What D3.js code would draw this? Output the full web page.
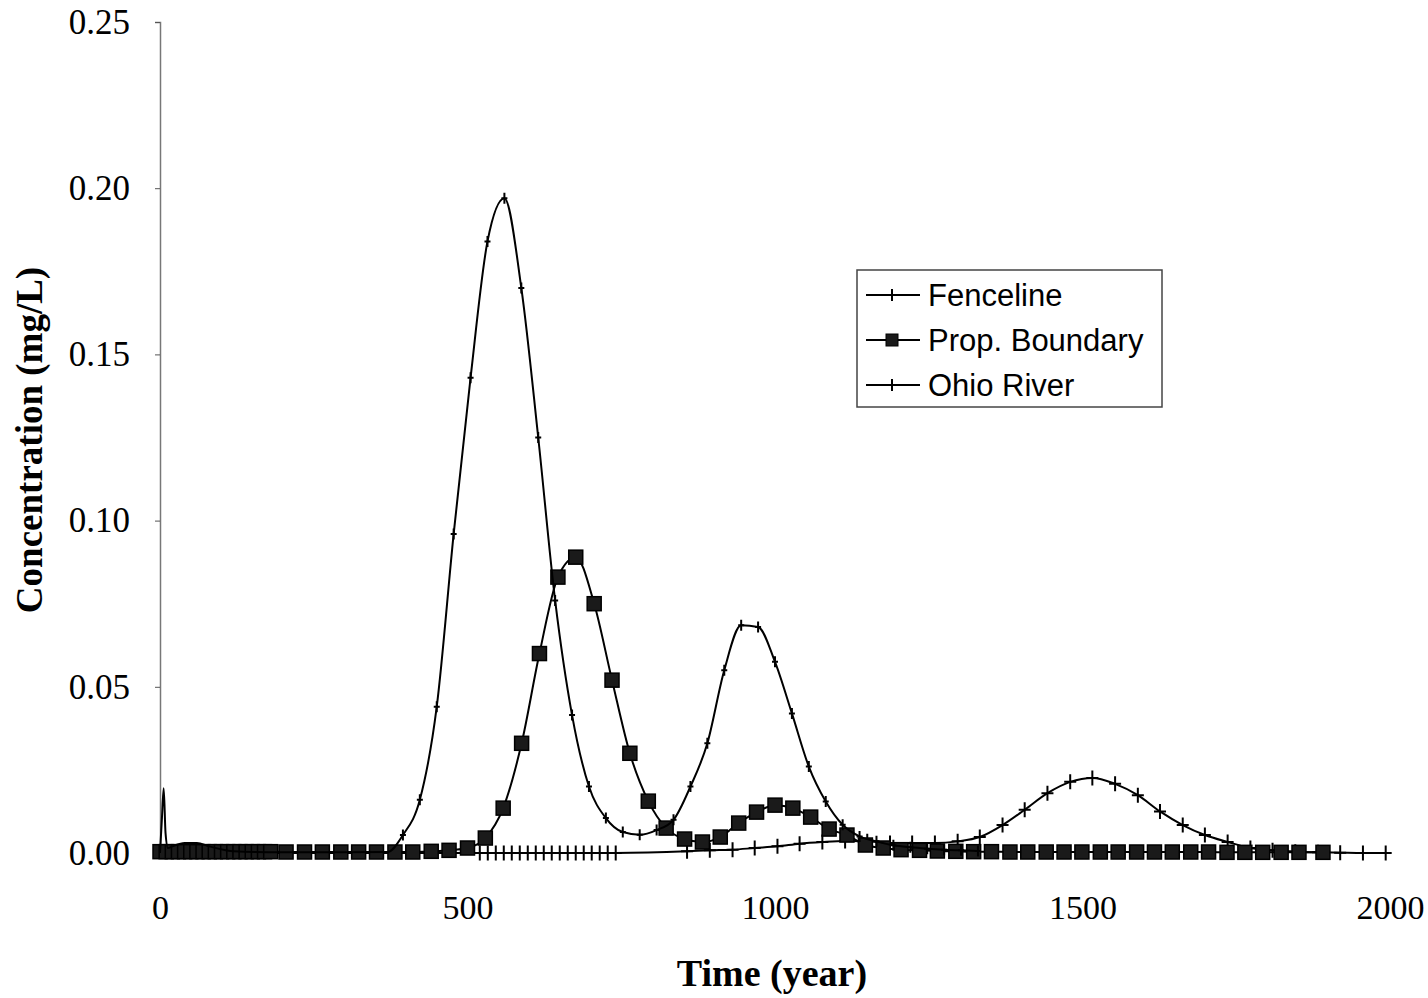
<!DOCTYPE html>
<html>
<head>
<meta charset="utf-8">
<script src="https://cdn.jsdelivr.net/npm/d3@7"></script>
<style>
  body { margin: 0; background: #fff; }
  svg { display: block; }
</style>
</head>
<body>
<svg id="chart" width="1428" height="998"></svg>
<script>
// series data (time in years, concentration in mg/L)

// Fenceline - early spike, then the markered run
const fenceTime = [0, 3, 6, 9, 13, 20, 40, 60, 80, 120, 200, 300, 370,
  395, 422.5, 450, 477.5, 505, 532.5, 560, 587.5, 615, 642.5, 670, 697.5, 725, 752.5,
  780, 807.5, 835, 862.5, 890, 917.5, 945, 972.5, 1000, 1027.5, 1055, 1082.5, 1110,
  1137.5, 1165, 1192.5, 1220, 1247.5, 1275, 1302.5, 1330];
const fenceConc = [0, 0.010, 0.0195, 0.006, 0.0015, 0.002, 0.003, 0.003, 0.002, 0.0005, 0.0002, 0.0002, 0.0003,
  0.0054, 0.016, 0.044, 0.096, 0.143, 0.184, 0.197, 0.170, 0.125, 0.076, 0.0415, 0.020, 0.0105, 0.0063,
  0.0055, 0.0069, 0.010, 0.020, 0.033, 0.055, 0.0685, 0.068, 0.0575, 0.042, 0.026, 0.0155, 0.0085,
  0.005, 0.0035, 0.0023, 0.0017, 0.0013, 0.001, 0.0008, 0.0006];
const fenceMarkFrom = 395;

// Prop. Boundary
const propTime = [0, 10, 20, 30, 40, 50, 60, 70, 80, 90, 100, 110, 120, 130, 140, 150, 160, 170, 180,
  205, 235, 264, 294, 323, 352, 382, 411, 441, 470, 500, 529, 558, 588, 617, 647, 676, 706, 735,
  764, 794, 823, 853, 882, 911, 941, 970, 1000, 1029, 1058, 1088, 1117, 1147, 1176, 1205, 1235,
  1264, 1294, 1323, 1352, 1382, 1411, 1441, 1470, 1499, 1529, 1558, 1588, 1617, 1646, 1676, 1705,
  1735, 1764, 1793, 1823, 1852, 1891];
const propConc = [0.0004, 0.0004, 0.0004, 0.0004, 0.0004, 0.0004, 0.0004, 0.0004, 0.0004, 0.0004,
  0.0004, 0.0004, 0.0004, 0.0004, 0.0004, 0.0004, 0.0004, 0.0004, 0.0004,
  0.0003, 0.0003, 0.0003, 0.0003, 0.0003, 0.0003, 0.0003, 0.0003, 0.0005, 0.0008, 0.0015, 0.0045,
  0.0135, 0.033, 0.060, 0.083, 0.089, 0.075, 0.052, 0.030, 0.0156, 0.0075, 0.0042, 0.0033, 0.0048,
  0.009, 0.0123, 0.0144, 0.0135, 0.0108, 0.0072, 0.0054, 0.0024, 0.0015, 0.001, 0.0008,
  0.0006, 0.0005, 0.0004, 0.0004, 0.0003, 0.0003, 0.0003, 0.0003, 0.0003, 0.0003, 0.0003, 0.0003,
  0.0003, 0.0003, 0.0003, 0.0003, 0.0002, 0.0002, 0.0002, 0.0002, 0.0002, 0.0002];

// Ohio River
const ohioTime = [0, 250, 500, 520, 533, 546, 559, 572, 585, 598, 611, 624, 637, 650, 663, 676, 689,
  702, 715, 728, 741, 857, 894, 931, 967, 1004, 1040, 1077, 1114, 1150, 1187, 1223, 1260, 1297,
  1333, 1370, 1406, 1443, 1480, 1516, 1553, 1590, 1626, 1663, 1699, 1736, 1773, 1809, 1846, 1883,
  1919, 1956, 1993];
const ohioConc = [0, 0, 0, 0, 0, 0, 0, 0, 0, 0, 0, 0, 0, 0, 0, 0, 0,
  0, 0, 0, 0, 0.0005, 0.0008, 0.001, 0.0015, 0.002, 0.0028, 0.0033, 0.0036, 0.0035, 0.003, 0.003,
  0.003, 0.0035, 0.0048, 0.0084, 0.013, 0.018, 0.0214, 0.0226, 0.0208, 0.0174, 0.0125, 0.0084,
  0.0054, 0.0033, 0.0015, 0.0008, 0.0004, 0.0002, 0.0001, 0, 0];
const ohioMarkFrom = 520;

const xTicks = [0, 500, 1000, 1500, 2000];
const yTicks = [0, 0.05, 0.10, 0.15, 0.20, 0.25];
const legendNames = ["Fenceline", "Prop. Boundary", "Ohio River"];

const svg = d3.select("#chart");

const x = d3.scaleLinear().domain([0, 2000]).range([160, 1390]);
const y = d3.scaleLinear().domain([0, 0.25]).range([853, 22]);

const serif = "'Liberation Serif', 'Times New Roman', serif";
const sans = "'Liberation Sans', Arial, sans-serif";

// y axis
const yAxis = svg.append("g")
  .attr("transform", "translate(160,0)")
  .call(d3.axisLeft(y).tickValues(yTicks).tickFormat(d3.format(".2f")).tickSize(5).tickPadding(25));
yAxis.select(".domain").attr("stroke", "#777").attr("stroke-width", 1.5);
yAxis.selectAll(".tick line").attr("stroke", "#555");
yAxis.selectAll("text")
  .attr("font-family", serif).attr("font-size", 35).attr("fill", "#000");

// x axis, no line, only labels
const xAxis = svg.append("g")
  .attr("transform", "translate(0,853)")
  .call(d3.axisBottom(x).tickValues(xTicks).tickFormat(d3.format("d")).tickSize(0).tickPadding(42));
xAxis.select(".domain").remove();
xAxis.selectAll("text")
  .attr("font-family", serif).attr("font-size", 34).attr("fill", "#000");

// axis titles
svg.append("text")
  .attr("x", 772).attr("y", 986)
  .attr("text-anchor", "middle")
  .attr("font-family", serif).attr("font-size", 38).attr("font-weight", "bold")
  .text("Time (year)");

svg.append("text")
  .attr("transform", "translate(42,440) rotate(-90)")
  .attr("text-anchor", "middle")
  .attr("font-family", serif).attr("font-size", 37).attr("font-weight", "bold")
  .text("Concentration (mg/L)");

const line = d3.line()
  .x(d => x(d[0]))
  .y(d => y(d[1]))
  .curve(d3.curveMonotoneX);

const zipUp = (t, c) => t.map((v, i) => [v, c[i]]);
const fence = zipUp(fenceTime, fenceConc);
const prop = zipUp(propTime, propConc);
const ohio = zipUp(ohioTime, ohioConc);

// cross marker path
const cross = (w, h) => `M${-w / 2},0H${w / 2}M0,${-h / 2}V${h / 2}`;

const drawCrosses = (data, w, h, sw) => {
  svg.append("g").selectAll("path")
    .data(data)
    .join("path")
    .attr("transform", d => `translate(${x(d[0])},${y(d[1])})`)
    .attr("d", cross(w, h))
    .attr("stroke", "#000")
    .attr("stroke-width", sw)
    .attr("fill", "none");
};

// Ohio River
svg.append("path").datum(ohio)
  .attr("d", line).attr("fill", "none").attr("stroke", "#000").attr("stroke-width", 2);
drawCrosses(ohio.filter(d => d[0] >= ohioMarkFrom), 12, 15, 2);

// Prop. Boundary
svg.append("path").datum(prop)
  .attr("d", line).attr("fill", "none").attr("stroke", "#000").attr("stroke-width", 2);
svg.append("g").selectAll("rect")
  .data(prop)
  .join("rect")
  .attr("x", d => x(d[0]) - 7)
  .attr("y", d => y(d[1]) - 7)
  .attr("width", 14).attr("height", 14)
  .attr("fill", "#1a1a1a")
  .attr("stroke", "#000").attr("stroke-width", 1.5);

// Fenceline
svg.append("path").datum(fence)
  .attr("d", line).attr("fill", "none").attr("stroke", "#000").attr("stroke-width", 2);
drawCrosses(fence.filter(d => d[0] >= fenceMarkFrom), 6, 11, 2);

// legend
const legend = svg.append("g");
legend.append("rect")
  .attr("x", 857).attr("y", 270)
  .attr("width", 305).attr("height", 137)
  .attr("fill", "#fff").attr("stroke", "#444").attr("stroke-width", 1.5);

legendNames.forEach((name, i) => {
  const ly = 295 + i * 45;
  legend.append("line")
    .attr("x1", 866).attr("x2", 920).attr("y1", ly).attr("y2", ly)
    .attr("stroke", "#000").attr("stroke-width", 2);
  if (i == 1) {
    legend.append("rect")
      .attr("x", 886).attr("y", ly - 6).attr("width", 12).attr("height", 12)
      .attr("fill", "#1a1a1a").attr("stroke", "#000");
  } else {
    legend.append("path")
      .attr("transform", `translate(892,${ly})`)
      .attr("d", cross(i == 0 ? 8 : 10, 12))
      .attr("stroke", "#000").attr("stroke-width", 2);
  }
  legend.append("text")
    .attr("x", 928).attr("y", ly + 11)
    .attr("font-family", sans).attr("font-size", 31).attr("fill", "#000")
    .text(name);
});
</script>
</body>
</html>
